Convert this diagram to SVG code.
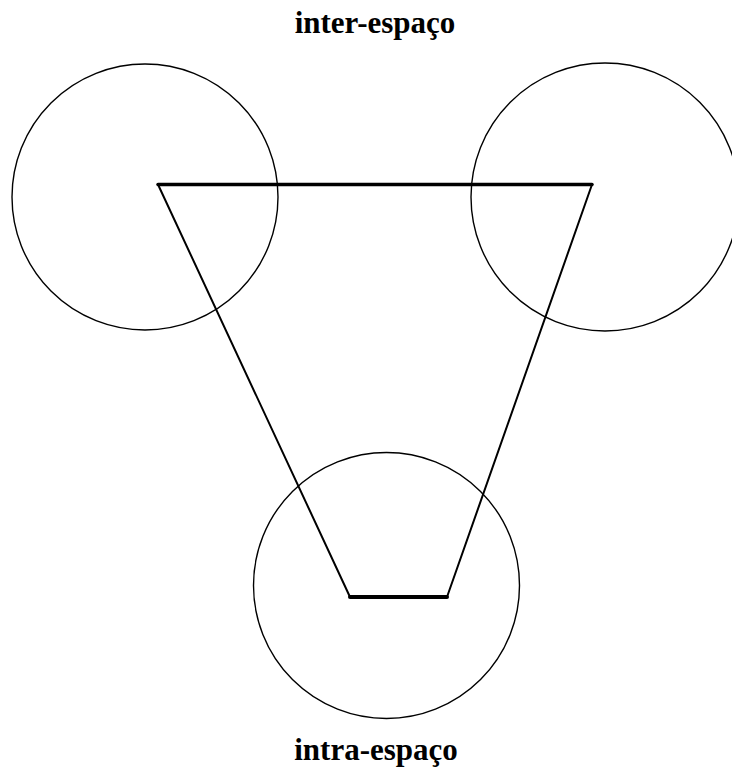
<svg xmlns="http://www.w3.org/2000/svg" width="732" height="769" viewBox="0 0 732 769">
<style>
.c{fill:none;stroke:#000;stroke-width:1.4}
.t{font-family:"Liberation Serif","Times New Roman",serif;font-weight:bold;font-size:31px;fill:#000;text-anchor:middle}
.e{stroke:#000;fill:none;stroke-linecap:round}
</style>
<rect width="732" height="769" fill="#fff"/>
<g id="label-top"><text class="t" x="375" y="33">inter-espaço</text></g>
<g id="circle-left"><circle class="c" cx="145" cy="197" r="133"/></g>
<g id="circle-right"><circle class="c" cx="605" cy="197" r="134"/></g>
<g id="circle-bottom"><circle class="c" cx="386.5" cy="585.5" r="133"/></g>
<g id="connectors">
<line class="e" x1="158" y1="184.5" x2="592" y2="184.5" stroke-width="3.5"/>
<line class="e" x1="158" y1="184.5" x2="350" y2="597" stroke-width="2"/>
<line class="e" x1="592" y1="184.5" x2="447" y2="597" stroke-width="2"/>
<line class="e" x1="350" y1="597" x2="447" y2="597" stroke-width="4"/>
</g>
<g id="label-bottom"><text class="t" x="376" y="760">intra-espaço</text></g>
</svg>
